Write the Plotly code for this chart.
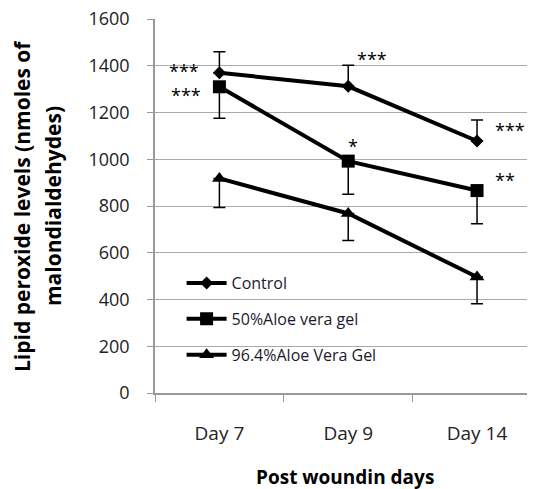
import plotly.graph_objects as go

days = ["Day 7", "Day 9", "Day 14"]
series_names = ["Control", "50%Aloe vera gel", "96.4%Aloe Vera Gel"]
control = [1370, 1312, 1078]
control_err = [90, 90, 90]
aloe50 = [1310, 992, 866]
aloe50_err = [135, 142, 142]
aloe96 = [918, 768, 496]
aloe96_err = [124, 116, 114]
y_ticks = [0, 200, 400, 600, 800, 1000, 1200, 1400, 1600]

sig_control = ["***", "***", "***"]
sig_aloe50 = ["***", "*", "**"]

FONT = "Open Sans"
fig = go.Figure()

fig.add_trace(go.Scatter(
    x=days, y=control, name=series_names[0], mode="lines+markers",
    line=dict(color="black", width=4),
    marker=dict(symbol="diamond", size=10, color="black"),
    error_y=dict(type="data", array=control_err, arrayminus=[0] * 3,
                 symmetric=False, color="black", thickness=1.5, width=6),
    legend="legend"))
fig.add_trace(go.Scatter(
    x=days, y=aloe50, name=series_names[1], mode="lines+markers",
    line=dict(color="black", width=4),
    marker=dict(symbol="square", size=13, color="black"),
    error_y=dict(type="data", array=[0] * 3, arrayminus=aloe50_err,
                 symmetric=False, color="black", thickness=1.5, width=6),
    legend="legend2"))
fig.add_trace(go.Scatter(
    x=days, y=aloe96, name=series_names[2], mode="lines+markers",
    line=dict(color="black", width=4),
    marker=dict(symbol="triangle-up", size=13, color="black"),
    error_y=dict(type="data", array=[0] * 3, arrayminus=aloe96_err,
                 symmetric=False, color="black", thickness=1.5, width=6),
    legend="legend3"))

annotations = []
ctrl_shifts = [(-35, 2), (24, 27), (33, 11)]
a50_shifts = [(-33, -8), (5, 15), (28, 11)]
for i, d in enumerate(days):
    for vals, txt, sh in ((control, sig_control[i], ctrl_shifts[i]),
                          (aloe50, sig_aloe50[i], a50_shifts[i])):
        annotations.append(dict(
            x=d, y=vals[i], xref="x", yref="y", text=txt, showarrow=False,
            xshift=sh[0], yshift=sh[1],
            font=dict(family=FONT, size=18, color="black")))

annotations += [
    dict(xref="paper", yref="paper", x=0, y=0.5, xshift=-133,
         xanchor="center", yanchor="middle",
         text="<b>Lipid peroxide levels (nmoles of</b>", textangle=-90,
         showarrow=False, font=dict(family=FONT, size=21, color="black")),
    dict(xref="paper", yref="paper", x=0, y=0.5, xshift=-102,
         xanchor="center", yanchor="middle",
         text="<b>malondialdehydes)</b>", textangle=-90,
         showarrow=False, font=dict(family=FONT, size=21, color="black")),
    dict(xref="paper", yref="paper", x=0.5, y=-0.2246,
         xanchor="center", yanchor="middle",
         text="<b>Post woundin days</b>", showarrow=False,
         font=dict(family=FONT, size=19, color="black")),
]

leg_common = dict(xanchor="left", yanchor="middle", bgcolor="rgba(0,0,0,0)",
                  font=dict(family=FONT, size=16, color="#1a1a2e"),
                  itemwidth=40)
fig.update_layout(
    width=535, height=489,
    margin=dict(l=147, r=8, t=11, b=104, autoexpand=False),
    paper_bgcolor="white", plot_bgcolor="white",
    showlegend=True,
    legend=dict(x=0.07, y=0.294, **leg_common),
    legend2=dict(x=0.07, y=0.198, **leg_common),
    legend3=dict(x=0.07, y=0.102, **leg_common),
    annotations=annotations,
    shapes=[dict(type="rect", xref="paper", yref="paper", x0=0.079, x1=0.679,
                 y0=0.048, y1=0.35, fillcolor="white", line=dict(width=0),
                 layer="between")],
    xaxis=dict(type="category", categoryorder="array", categoryarray=days,
               range=[-0.5, 2.45], tickson="boundaries", ticks="outside",
               ticklen=7, tickcolor="#999", showline=True, linecolor="#999",
               linewidth=1.5, showgrid=False, ticklabelstandoff=22,
               automargin=False, ticklabeloverflow="allow",
               tickfont=dict(family=FONT, size=19, color="#222")),
    yaxis=dict(range=[0, 1600], tickvals=y_ticks, ticks="outside", ticklen=6,
               tickcolor="#999", showline=True, linecolor="#999", linewidth=1.5,
               showgrid=True, gridcolor="#aaa", gridwidth=1.2, zeroline=False,
               ticklabelstandoff=14, automargin=False,
               ticklabeloverflow="allow",
               tickfont=dict(family=FONT, size=18, color="#222")),
)

fig.write_html("out.html")
